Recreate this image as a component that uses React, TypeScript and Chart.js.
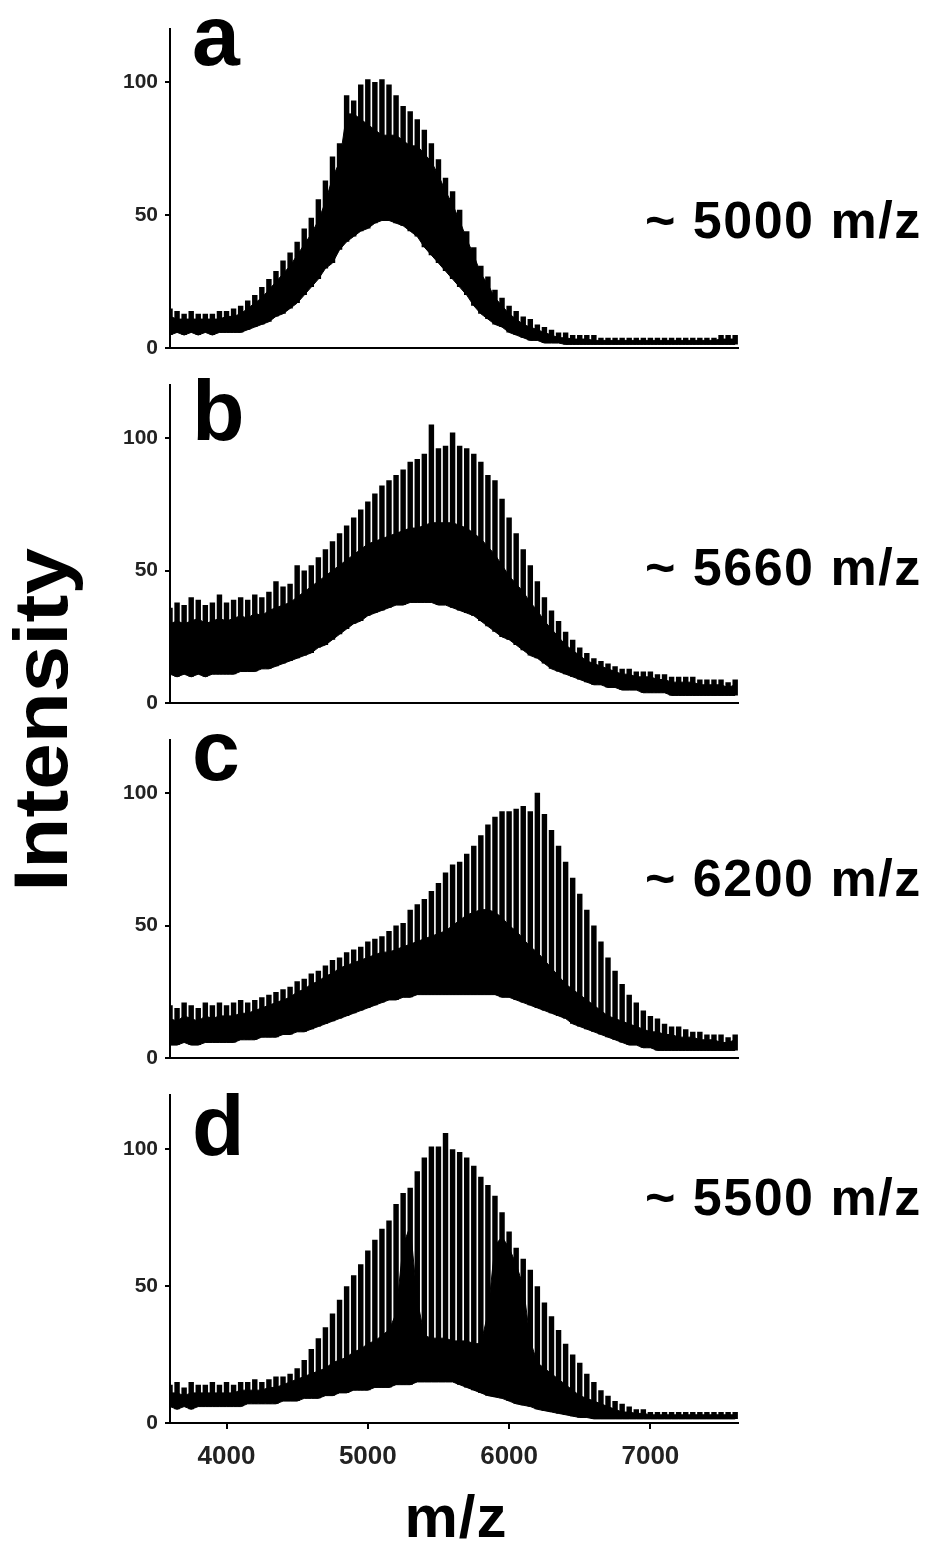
import React, { useEffect, useRef } from "react";
import { Chart, registerables } from "chart.js";

Chart.register(...registerables);

// ---------------- DATA ----------------
const mz = [
  3600, 3650, 3700, 3750, 3800, 3850, 3900, 3950, 4000, 4050,
  4100, 4150, 4200, 4250, 4300, 4350, 4400, 4450, 4500, 4550,
  4600, 4650, 4700, 4750, 4800, 4850, 4900, 4950, 5000, 5050,
  5100, 5150, 5200, 5250, 5300, 5350, 5400, 5450, 5500, 5550,
  5600, 5650, 5700, 5750, 5800, 5850, 5900, 5950, 6000, 6050,
  6100, 6150, 6200, 6250, 6300, 6350, 6400, 6450, 6500, 6550,
  6600, 6650, 6700, 6750, 6800, 6850, 6900, 6950, 7000, 7050,
  7100, 7150, 7200, 7250, 7300, 7350, 7400, 7450, 7500, 7550,
  7600,
];

const xTicks = [4000, 5000, 6000, 7000];
const yTicks = [0, 50, 100];

// Panel a (~5000 m/z): peak tops, top of solid band, bottom edge
const topA = [
  15, 14, 13, 14, 13, 13, 13, 14, 14, 15,
  16, 18, 20, 23, 26, 29, 33, 36, 40, 45,
  49, 56, 63, 72, 77, 95, 93, 99, 101, 100,
  101, 99, 95, 91, 89, 86, 82, 77, 71, 64,
  59, 52, 44, 38, 31, 27, 22, 19, 16, 14,
  12, 11, 9, 8, 7, 6, 6, 5, 5, 5,
  5, 4, 4, 4, 4, 4, 4, 4, 4, 4,
  4, 4, 4, 4, 4, 4, 4, 4, 5, 5,
  5,
];
const coreA = [
  12, 11, 11, 11, 11, 11, 11, 11, 12, 12,
  13, 15, 17, 19, 22, 25, 28, 31, 35, 39,
  43, 48, 55, 64, 70, 88, 88, 86, 84, 82,
  80, 80, 80, 78, 76, 76, 73, 70, 65, 59,
  54, 48, 41, 35, 28, 24, 19, 16, 13, 11,
  9, 8, 7, 6, 5, 4, 4, 3.5, 3.5, 3.5,
  3, 3, 3, 3, 3, 3, 3, 3, 3, 3,
  3, 3, 3, 3, 3, 3, 3, 3, 3.5, 3.5,
  3.5,
];
const baseA = [
  5, 6, 5, 6, 5, 6, 5, 6, 6, 6,
  6, 7, 8, 9, 10, 12, 13, 15, 17, 20,
  23, 26, 30, 32, 37, 40, 42, 44, 45, 47,
  48, 48, 47, 46, 44, 42, 38, 35, 32, 29,
  26, 23, 20, 16, 13, 11, 9, 8, 6, 5,
  4, 3, 3, 2, 2, 2, 1.5, 1.5, 1.5, 1.5,
  1.5, 1.5, 1.5, 1.5, 1.5, 1.5, 1.5, 1.5, 1.5, 1.5,
  1.5, 1.5, 1.5, 1.5, 1.5, 1.5, 1.5, 1.5, 1.5, 1.5,
  1.5,
];

// Panel b (~5660 m/z)
const topB = [
  36, 38, 37, 40, 39, 37, 38, 41, 38, 39,
  40, 39, 41, 40, 42, 46, 44, 45, 52, 50,
  52, 55, 58, 61, 64, 67, 70, 73, 76, 79,
  82, 84, 86, 88, 91, 92, 94, 105, 96, 97,
  102, 97, 96, 94, 91, 86, 84, 77, 70, 64,
  58, 52, 46, 40, 35, 31, 27, 24, 21, 19,
  17, 16, 15, 14, 13, 13, 12, 12, 12, 11,
  11, 10, 10, 10, 10, 9, 9, 9, 9, 8,
  9,
];
const coreB = [
  30, 31, 30, 31, 32, 30, 31, 32, 31, 32,
  33, 32, 34, 33, 35, 36, 37, 38, 40, 42,
  44, 46, 48, 50, 52, 54, 56, 58, 60, 61,
  62, 63, 64, 65, 66, 66, 67, 68, 68, 68,
  68, 67, 66, 64, 62, 59, 56, 52, 48, 45,
  42, 38, 35, 31, 28, 25, 22, 20, 18, 16,
  15, 14, 13, 12, 11, 11, 10, 10, 10, 9,
  9, 8, 8, 8, 8, 7, 7, 7, 7, 6,
  7,
];
const baseB = [
  11, 10, 11, 10, 11, 10, 11, 11, 11, 11,
  12, 12, 12, 13, 13, 14, 15, 16, 17, 18,
  19, 21, 22, 24, 26, 28, 30, 31, 33, 34,
  35, 36, 37, 37, 38, 38, 38, 38, 37, 37,
  36, 35, 34, 33, 31, 29, 27, 25, 24, 22,
  20, 18, 17, 15, 13, 12, 11, 10, 9, 8,
  7, 7, 6, 6, 5, 5, 5, 4, 4, 4,
  4, 3, 3, 3, 3, 3, 3, 3, 3, 3,
  3,
];

// Panel c (~6200 m/z)
const topC = [
  20, 19, 21, 20, 19, 21, 20, 21, 20, 21,
  22, 21, 22, 23, 24, 25, 26, 27, 29, 30,
  32, 33, 35, 37, 38, 40, 41, 42, 44, 45,
  46, 48, 50, 51, 56, 58, 60, 63, 66, 70,
  73, 74, 77, 80, 84, 88, 91, 93, 93, 94,
  95, 93, 100, 92, 86, 80, 74, 68, 62, 56,
  50, 44, 38, 33, 28, 24, 21, 18, 16, 15,
  13, 12, 12, 11, 10, 10, 9, 9, 9, 8,
  9,
];
const coreC = [
  15, 14, 16, 15, 14, 16, 15, 16, 16, 16,
  17, 17, 18, 19, 20, 21, 22, 23, 25, 26,
  28, 29, 31, 32, 34, 35, 36, 37, 38, 39,
  40, 40, 41, 42, 43, 44, 45, 46, 47, 48,
  50, 52, 54, 55, 56, 56, 55, 53, 50, 48,
  45, 42, 40, 37, 34, 31, 28, 26, 24, 22,
  20, 18, 16, 15, 14, 13, 12, 11, 10, 10,
  9, 9, 8, 8, 8, 7, 7, 7, 6, 6,
  7,
];
const baseC = [
  5, 5, 6, 5, 5, 6, 6, 6, 6, 6,
  7, 7, 7, 8, 8, 8, 9, 9, 10, 10,
  11, 12, 13, 14, 15, 16, 17, 18, 19, 20,
  21, 22, 22, 23, 23, 24, 24, 24, 24, 24,
  24, 24, 24, 24, 24, 24, 24, 23, 23, 22,
  21, 20, 19, 18, 17, 16, 15, 13, 12, 11,
  10, 9, 8, 7, 6, 5, 5, 4, 4, 3,
  3, 3, 3, 3, 3, 3, 3, 3, 3, 3,
  3,
];

// Panel d (~5500 m/z)
const topD = [
  14, 15, 13, 15, 14, 14, 15, 14, 15, 14,
  15, 15, 16, 15, 16, 17, 17, 18, 20, 23,
  27, 31, 35, 40, 45, 50, 54, 58, 63, 67,
  71, 74, 80, 84, 86, 92, 97, 101, 101, 106,
  100, 99, 97, 94, 90, 87, 83, 77, 70, 64,
  60, 56, 50, 44, 39, 34, 29, 25, 22, 18,
  15, 12, 10, 8, 7, 6, 5, 5, 4, 4,
  4, 4, 4, 4, 4, 4, 4, 4, 4, 4,
  4,
];
const coreD = [
  11, 11, 10, 11, 11, 11, 11, 11, 11, 11,
  12, 12, 12, 12, 13, 13, 14, 15, 16, 17,
  18, 19, 20, 22, 23, 24, 26, 27, 29, 30,
  32, 34, 40, 65, 72, 45, 32, 31, 31, 31,
  30, 30, 30, 29, 29, 40, 65, 68, 64, 58,
  50, 30, 22, 20, 18, 16, 14, 12, 10, 9,
  8, 7, 6, 5, 4, 4, 3.5, 3.5, 3, 3,
  3, 3, 3, 3, 3, 3, 3, 3, 3, 3,
  3,
];
const baseD = [
  6, 5, 6, 5, 6, 6, 6, 6, 6, 6,
  6, 7, 7, 7, 7, 7, 8, 8, 8, 9,
  9, 9, 10, 10, 11, 11, 12, 12, 12, 13,
  13, 13, 14, 14, 14, 15, 15, 15, 15, 15,
  15, 14, 13, 12, 11, 10, 9.5, 9, 8, 7,
  6.5, 6, 5, 4.5, 4, 3.5, 3, 2.5, 2, 2,
  1.5, 1.5, 1.5, 1.5, 1.5, 1.5, 1.5, 1.5, 1.5, 1.5,
  1.5, 1.5, 1.5, 1.5, 1.5, 1.5, 1.5, 1.5, 1.5, 1.5,
  1.5,
];

const panelLetters = ["a", "b", "c", "d"];
const panelNotes = ["~ 5000 m/z", "~ 5660 m/z", "~ 6200 m/z", "~ 5500 m/z"];
const xTitle = "m/z";
const yTitle = "Intensity";

// ---------------- LAYOUT ----------------
const FONT = "'Liberation Sans', Arial, Helvetica, sans-serif";
const X_MIN = 3600;
const X_MAX = 7620;
const Y_MIN = 0;
const Y_MAX = 120;
const PAD_TOP = 10;
const CANVAS_W = 739;
const Y_AXIS_W = 170;

const panelBoxes = [
  { areaTop: 19, areaBottom: 358, letterBase: 65, noteBase: 238 },
  { areaTop: 375, areaBottom: 713, letterBase: 440, noteBase: 585 },
  { areaTop: 730, areaBottom: 1068, letterBase: 780, noteBase: 896 },
  { areaTop: 1085, areaBottom: 1423, letterBase: 1155, noteBase: 1215 },
];

const series = [
  { top: topA, core: coreA, base: baseA },
  { top: topB, core: coreB, base: baseB },
  { top: topC, core: coreC, base: baseC },
  { top: topD, core: coreD, base: baseD },
];

type PanelProps = {
  top: number[];
  core: number[];
  base: number[];
  showX: boolean;
  areaTop: number;
  areaBottom: number;
};

function Panel({ top, core, base, showX, areaTop, areaBottom }: PanelProps) {
  const ref = useRef<HTMLCanvasElement | null>(null);
  const xAxisH = showX ? 60 : 10;
  const canvasTop = areaTop - PAD_TOP;
  const canvasH = areaBottom - canvasTop + xAxisH;

  useEffect(() => {
    if (!ref.current) return;
    const chart = new Chart(ref.current, {
      type: "bar",
      data: {
        datasets: [
          {
            type: "line",
            data: mz.map((x, i) => ({ x, y: base[i] })),
            borderColor: "#000",
            borderWidth: 1,
            pointRadius: 0,
            fill: false,
            order: 1,
          } as any,
          {
            type: "line",
            data: mz.map((x, i) => ({ x, y: core[i] })),
            borderColor: "#000",
            borderWidth: 1,
            pointRadius: 0,
            fill: "-1",
            backgroundColor: "#000",
            order: 1,
          } as any,
          {
            type: "bar",
            data: mz.map((x, i) => ({ x, y: [base[i], top[i]] })),
            backgroundColor: "#000",
            borderWidth: 0,
            barPercentage: 1,
            categoryPercentage: 0.77,
            order: 2,
          } as any,
        ],
      },
      options: {
        animation: false,
        responsive: false,
        maintainAspectRatio: false,
        events: [],
        layout: { padding: { top: PAD_TOP, right: 1, left: 0, bottom: 0 } },
        plugins: {
          legend: { display: false },
          tooltip: { enabled: false },
        },
        scales: {
          x: {
            type: "linear",
            min: X_MIN,
            max: X_MAX,
            offset: false,
            afterBuildTicks: (s: any) => {
              s.ticks = xTicks.map((v) => ({ value: v }));
            },
            afterFit: (s: any) => {
              s.height = xAxisH;
            },
            ticks: {
              display: showX,
              color: "#222",
              padding: 12,
              maxRotation: 0,
              autoSkip: false,
              font: { family: FONT, size: 26, weight: "bold" },
              callback: (v: any) => String(v),
            },
            grid: {
              display: showX,
              offset: false,
              drawOnChartArea: false,
              drawTicks: true,
              tickLength: 6,
              color: "#000",
              lineWidth: 2,
            },
            border: { display: true, color: "#000", width: 2 },
          },
          y: {
            type: "linear",
            min: Y_MIN,
            max: Y_MAX,
            afterBuildTicks: (s: any) => {
              s.ticks = yTicks.map((v) => ({ value: v }));
            },
            afterFit: (s: any) => {
              s.width = Y_AXIS_W;
            },
            ticks: {
              color: "#222",
              padding: 7,
              font: { family: FONT, size: 21, weight: "bold" },
              callback: (v: any) => String(v),
            },
            grid: {
              display: true,
              offset: false,
              drawOnChartArea: false,
              drawTicks: true,
              tickLength: 5,
              color: "#000",
              lineWidth: 2,
            },
            border: { display: true, color: "#000", width: 2 },
          },
        },
      } as any,
    });
    return () => chart.destroy();
  }, [top, core, base, showX, xAxisH]);

  return (
    <canvas
      ref={ref}
      width={CANVAS_W}
      height={canvasH}
      style={{
        position: "absolute",
        left: 0,
        top: canvasTop,
        width: CANVAS_W,
        height: canvasH,
      }}
    />
  );
}

export default function App() {
  const letterSize = 86;
  const noteSize = 52;
  const titleSize = 60;
  const ySize = 76;
  return (
    <div
      style={{
        position: "absolute",
        left: 0,
        top: 0,
        width: 929,
        height: 1542,
        background: "#fff",
        overflow: "hidden",
        fontFamily: FONT,
        color: "#000",
      }}
    >
      {series.map((s, i) => (
        <Panel
          key={i}
          top={s.top}
          core={s.core}
          base={s.base}
          showX={i === series.length - 1}
          areaTop={panelBoxes[i].areaTop}
          areaBottom={panelBoxes[i].areaBottom}
        />
      ))}
      {panelLetters.map((t, i) => (
        <div
          key={"l" + i}
          style={{
            position: "absolute",
            left: 192,
            top: panelBoxes[i].letterBase - 0.8465 * letterSize,
            fontSize: letterSize,
            lineHeight: 1,
            fontWeight: "bold",
            whiteSpace: "nowrap",
          }}
        >
          {t}
        </div>
      ))}
      {panelNotes.map((t, i) => (
        <div
          key={"n" + i}
          style={{
            position: "absolute",
            left: 645,
            top: panelBoxes[i].noteBase - 0.8465 * noteSize,
            fontSize: noteSize,
            lineHeight: 1,
            fontWeight: "bold",
            letterSpacing: 1.5,
            whiteSpace: "nowrap",
          }}
        >
          {t}
        </div>
      ))}
      <div
        style={{
          position: "absolute",
          left: 356,
          width: 200,
          textAlign: "center",
          top: 1538 - 0.8465 * titleSize,
          fontSize: titleSize,
          lineHeight: 1,
          fontWeight: "bold",
          letterSpacing: 1,
          whiteSpace: "nowrap",
        }}
      >
        {xTitle}
      </div>
      <div
        style={{
          position: "absolute",
          left: 41 - 200,
          top: 720 - ySize / 2,
          width: 400,
          height: ySize,
          textAlign: "center",
          fontSize: ySize,
          lineHeight: 1,
          fontWeight: "bold",
          whiteSpace: "nowrap",
          transformOrigin: "50% 50%",
          transform: "rotate(-90deg) scaleX(1.1)",
        }}
      >
        {yTitle}
      </div>
    </div>
  );
}
